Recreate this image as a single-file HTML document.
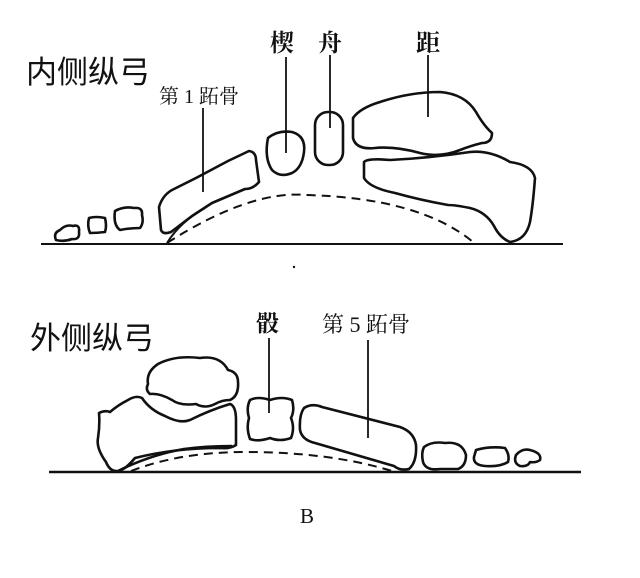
<!DOCTYPE html>
<html><head><meta charset="utf-8"><style>
html,body{margin:0;padding:0;background:#fff;}
svg{display:block}
text{font-family:"Liberation Serif","Noto Serif CJK SC",serif;fill:#111}
.s{font-family:"Liberation Sans","Noto Sans CJK SC",sans-serif}
</style></head><body>
<svg width="640" height="578" viewBox="0 0 640 578" xmlns="http://www.w3.org/2000/svg">
<g fill="none" stroke="#111" stroke-width="2.6" stroke-linejoin="round">
<line x1="41" y1="244" x2="563" y2="244" stroke-width="2"/>
<path d="M167,243 Q250,190 306,195 Q420,198 473,242" stroke-dasharray="9,6" stroke-width="2"/>
<path d="M167,243 Q180,222 205,208" stroke-width="2"/>
<path d="M161,230 L159,207 Q163,194 174,189 L196,178 L228,161 L249,151 Q256,152 256,160 L259,182 Q253,189 245,189 L212,203 L192,216 L171,232 Q163,235 161,230Z"/>
<path d="M56,240 Q53,233 60,230 Q66,224 73,226 Q80,224 79,232 Q80,240 72,239 Q64,242 56,240Z"/>
<path d="M89,218 Q96,216 105,218 Q107,226 105,232 Q97,233 90,233 Q87,226 89,218Z"/>
<path d="M115,211 Q124,206 134,208 Q143,207 142,215 Q144,223 140,228 Q130,228 120,230 Q113,225 115,211Z"/>
<path d="M268,138 Q278,130 292,132 Q306,136 304,152 Q302,168 292,173 Q280,178 272,170 Q264,158 268,138Z"/>
<rect x="315" y="112" width="28" height="53" rx="13"/>
<path d="M353,118 Q360,108 380,102 Q410,92 440,92 Q465,94 476,112 Q484,126 492,133 Q492,143 482,143 Q470,146 460,150 Q440,158 420,153 Q395,146 375,148 Q356,150 353,138Z"/>
<path d="M364,162 Q368,158 390,160 Q430,158 470,152 Q490,150 510,162 Q532,165 535,178 Q533,205 530,222 Q526,240 510,242 Q500,238 494,226 Q486,212 470,208 Q455,205 448,205 Q420,200 395,193 Q370,188 364,178Z"/>
<line x1="286" y1="57" x2="286" y2="153" stroke-width="1.8"/>
<line x1="330" y1="55" x2="330" y2="128" stroke-width="1.8"/>
<line x1="428" y1="55" x2="428" y2="117" stroke-width="1.8"/>
<line x1="203" y1="108" x2="203" y2="192" stroke-width="1.8"/>
<line x1="49" y1="472" x2="581" y2="472" stroke-width="2.4"/>
<path d="M131,471 Q180,452 245,452 Q330,452 392,471" stroke-dasharray="9,6" stroke-width="2"/>
<path d="M118,471 Q150,455 184,449 Q205,446 232,446"/>
<path d="M148,384 Q146,372 158,364 Q175,355 200,358 Q220,355 228,370 Q238,372 238,382 Q239,396 230,400 Q222,400 215,404 Q205,409 196,404 Q180,406 172,400 Q160,393 150,394 Q145,390 148,384Z"/>
<path d="M99,413 Q105,410 110,412 Q118,405 128,400 Q136,395 142,398 Q150,410 165,416 Q180,424 190,420 Q210,410 230,404 Q236,406 236,420 L236,445 Q230,449 220,448 Q175,448 135,458 Q125,470 118,471 Q110,472 106,462 Q96,448 98,438 Q100,425 99,413Z"/>
<path d="M250,400 Q258,396 270,400 Q282,396 292,400 Q295,410 291,418 Q295,428 291,438 Q280,442 270,438 Q258,442 250,439 Q246,428 249,418 Q246,408 250,400Z"/>
<path d="M304,408 Q312,403 322,407 L400,427 Q414,432 416,445 Q417,462 409,469 Q400,471 394,466 L315,443 Q302,440 300,430 Q299,415 304,408Z"/>
<path d="M424,447 Q432,441 445,443 Q462,441 466,455 Q466,466 458,469 Q448,469 440,469 Q426,471 423,462 Q421,453 424,447Z"/>
<path d="M476,450 Q490,446 505,448 Q510,455 508,462 Q500,467 485,466 Q473,465 474,457Z"/>
<path d="M516,455 Q522,448 530,450 Q542,453 540,460 Q536,463 530,462 Q528,467 520,466 Q513,463 516,455Z"/>
<line x1="269" y1="338" x2="269" y2="413" stroke-width="1.8"/>
<line x1="368" y1="340" x2="368" y2="438" stroke-width="1.8"/>
</g>
<circle cx="294" cy="267" r="1.2" fill="#111"/>
<text class="s" x="26" y="83" font-size="31">内侧纵弓</text>
<text x="159" y="103" font-size="20">第 1 跖骨</text>
<text x="270" y="51" font-size="24" font-weight="bold">楔</text>
<text x="318" y="51" font-size="24" font-weight="bold">舟</text>
<text x="416" y="51" font-size="24" font-weight="bold">距</text>
<text class="s" x="30" y="349" font-size="31">外侧纵弓</text>
<text x="256" y="331" font-size="23" font-weight="bold">骰</text>
<text x="322" y="332" font-size="22">第 5 跖骨</text>
<text x="300" y="523" font-size="21">B</text>
</svg>
</body></html>
